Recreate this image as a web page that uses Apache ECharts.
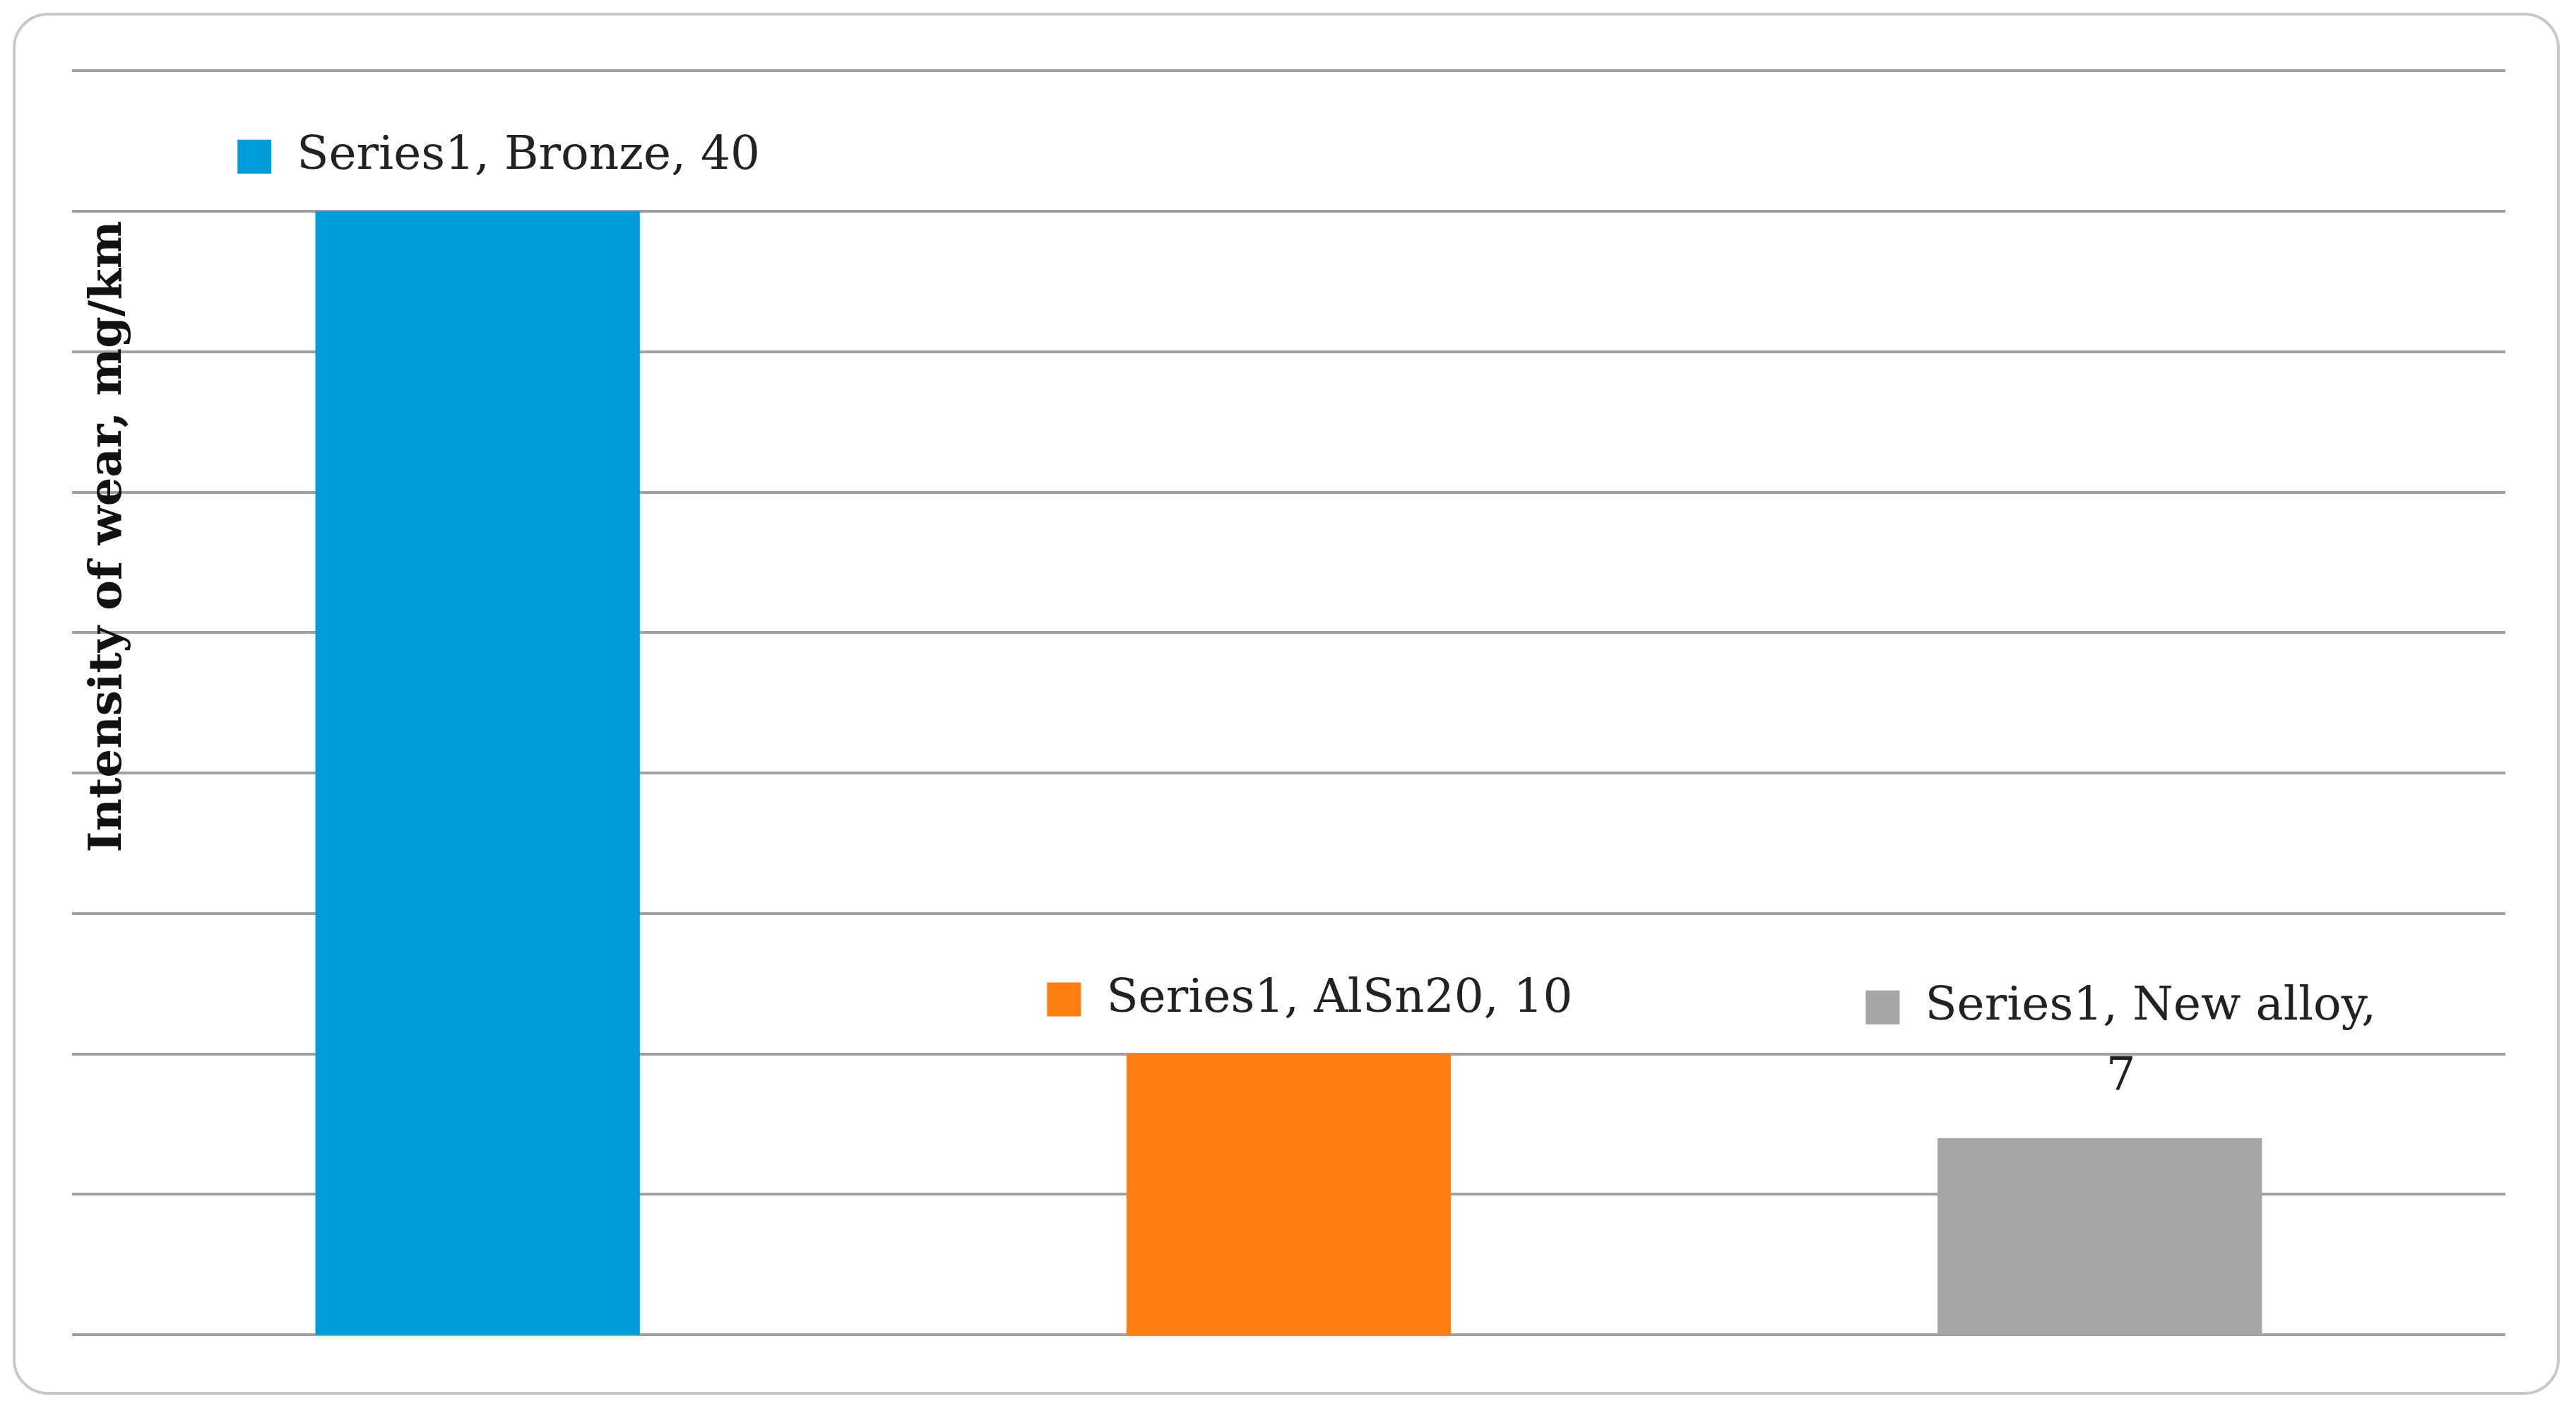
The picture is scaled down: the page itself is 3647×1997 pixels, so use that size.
<!DOCTYPE html>
<html>
<head>
<meta charset="utf-8">
<script src="https://cdn.jsdelivr.net/npm/echarts@6/dist/echarts.min.js"></script>
<style>
  html, body { margin: 0; padding: 0; background: #fff; }
  #frame { position: absolute; left: 18px; top: 18px; width: 3606px; height: 1956px;
           border: 4px solid #c8c8c8; border-radius: 50px; box-sizing: border-box; }
  #chartDom { position: absolute; left: 0; top: 0; width: 3647px; height: 1997px; }
</style>
</head>
<body>
<div id="frame"></div>
<div id="chartDom"></div>
<script>
// data
var categories = ['Bronze', 'AlSn20', 'New alloy'];
var values = [40, 10, 7];
var colors = ['#009cda', '#ff7f13', '#a6a6a6'];
var seriesName = 'Series1';

var chartDom = echarts.init(document.getElementById('chartDom'));
var font = '"DejaVu Serif", "Liberation Serif", serif';

var barData = values.map(function (v, i) {
    var text = seriesName + ', ' + categories[i] + ', ' + v;
    if (i === 2) text = seriesName + ', ' + categories[i] + ',\n' + v;
    return {
        value: v,
        itemStyle: { color: colors[i] },
        label: {
            formatter: '{m|}{s|}{t|' + text.replace('\n', '}\n{t|') + '}',
            rich: {
                m: { width: 48, height: 48, backgroundColor: colors[i] },
                s: { width: 36 },
                t: { fontSize: 66, fontFamily: font, color: '#222', lineHeight: 100 }
            },
            offset: i === 2 ? [30, -30] : [30, -22]
        }
    };
});

chartDom.setOption({
    animation: false,
    grid: { left: 102, right: 100, top: 100, bottom: 108 },
    xAxis: {
        type: 'category',
        data: categories,
        axisLine: { show: false },
        axisTick: { show: false },
        axisLabel: { show: false }
    },
    yAxis: {
        type: 'value',
        min: 0,
        max: 45,
        interval: 5,
        name: 'Intensity of wear, mg/km',
        nameLocation: 'middle',
        nameRotate: 90,
        nameGap: -84,
        nameTextStyle: { fontSize: 64, fontWeight: 'bold', fontFamily: font, color: '#111', padding: [0, 0, 0, 470] },
        axisLabel: { show: false },
        axisLine: { show: false },
        axisTick: { show: false },
        splitLine: { lineStyle: { color: '#a0a0a0', width: 4 } }
    },
    series: [{
        name: seriesName,
        type: 'bar',
        barWidth: '40%',
        data: barData,
        label: { show: true, position: 'top', align: 'center' }
    }]
});
</script>
</body>
</html>
